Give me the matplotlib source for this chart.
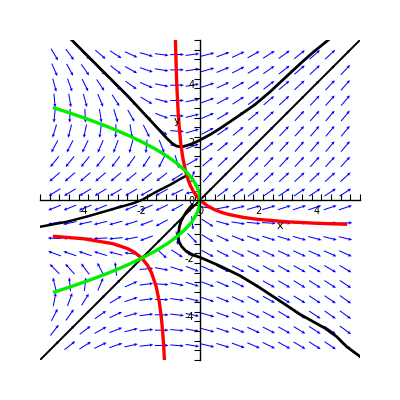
import numpy as np
import matplotlib.pyplot as plt
from matplotlib.ticker import FixedLocator

plt.rcParams['axes.unicode_minus'] = False

# direction field grid (20 x 20 arrows over -5..5)
grid_x = np.linspace(-5, 5, 20)
grid_y = np.linspace(-5, 5, 20)

# system: x' = 2x + y^2 , y' = x + y + xy
def field(x, y):
    return 2 * x + y ** 2, x + y + x * y

# trajectories (black)
traj_upper_x = [-4.41, -3.44, -2.46, -1.72, -1.35, -1.14, -0.95, -0.80, -0.62, -0.46, -0.22, 0.0, 0.35, 0.69, 1.37, 1.89, 2.41, 2.86, 3.44, 3.89, 4.41]
traj_upper_y = [5.50, 4.53, 3.55, 2.75, 2.35, 2.12, 1.94, 1.85, 1.83, 1.87, 1.95, 2.06, 2.25, 2.46, 2.92, 3.28, 3.72, 4.14, 4.68, 5.08, 5.50]

traj_lower_x = [-0.27, -0.45, -0.57, -0.66, -0.71, -0.75, -0.72, -0.63, -0.48, -0.29, 0.0, 0.69, 1.37, 2.0, 2.64, 3.44, 4.30, 4.70, 5.04, 5.5]
traj_lower_y = [-0.17, -0.38, -0.57, -0.75, -0.92, -1.26, -1.44, -1.60, -1.76, -1.88, -1.97, -2.27, -2.60, -2.98, -3.40, -3.93, -4.41, -4.70, -5.04, -5.38]

traj_left_x = [-5.5, -4.58, -3.89, -3.09, -2.29, -2.0, -1.49, -1.03, -0.63, -0.46]
traj_left_y = [-0.92, -0.75, -0.57, -0.34, -0.11, 0.0, 0.29, 0.52, 0.75, 0.84]

diag_x = [-5.5, 5.5]
diag_y = [-5.5, 5.5]

# nullcline y' = 0 (red), two branches
red_a_x = [-0.846, -0.8, -0.75, -0.714, -0.667, -0.6, -0.5, -0.4, -0.333, -0.2, 0.0, 0.25, 0.5, 0.75, 1.0, 1.5, 2.0, 3.0, 4.0, 5.0]
red_a_y = [5.5, 4.0, 3.0, 2.5, 2.0, 1.5, 1.0, 0.667, 0.5, 0.25, 0.0, -0.2, -0.333, -0.429, -0.5, -0.6, -0.667, -0.75, -0.8, -0.833]
red_b_x = [-5.0, -4.0, -3.0, -2.5, -2.25, -2.0, -1.8, -1.667, -1.5, -1.4, -1.333, -1.286, -1.25, -1.222]
red_b_y = [-1.25, -1.333, -1.5, -1.667, -1.8, -2.0, -2.25, -2.5, -3.0, -3.5, -4.0, -4.5, -5.0, -5.5]

# nullcline x' = 0 (green)
green_y = [3.16, 3.0, 2.75, 2.5, 2.25, 2.0, 1.75, 1.5, 1.25, 1.0, 0.75, 0.5, 0.25, 0.0,
           -0.25, -0.5, -0.75, -1.0, -1.25, -1.5, -1.75, -2.0, -2.25, -2.5, -2.75, -3.0, -3.16]
green_x = [-5.0, -4.5, -3.78, -3.125, -2.53, -2.0, -1.53, -1.125, -0.78, -0.5, -0.28, -0.125, -0.03, 0.0,
           -0.03, -0.125, -0.28, -0.5, -0.78, -1.125, -1.53, -2.0, -2.53, -3.125, -3.78, -4.5, -5.0]

tick_labels = [-4, -2, 0, 2, 4]

fig = plt.figure(figsize=(4, 4), dpi=100)
ax = fig.add_axes([0.1, 0.1, 0.8, 0.8])

X, Y = np.meshgrid(grid_x, grid_y)
U, V = field(X, Y)
n = np.hypot(U, V)
n[n == 0] = 1
L = 0.47
ax.quiver(X, Y, U / n * L, V / n * L, color='#0000ff', angles='xy', scale_units='xy',
          scale=1, pivot='middle', width=0.0032, headwidth=3.2, headlength=3.5,
          headaxislength=3.0, zorder=1)

ax.plot(diag_x, diag_y, color='black', lw=1.4, zorder=2)
ax.plot(traj_upper_x, traj_upper_y, color='black', lw=2.0, zorder=2)
ax.plot(traj_lower_x, traj_lower_y, color='black', lw=2.0, zorder=2)
ax.plot(traj_left_x, traj_left_y, color='black', lw=1.8, zorder=2)

ax.plot(red_a_x, red_a_y, color='#ff0000', lw=2.4, zorder=3)
ax.plot(red_b_x, red_b_y, color='#ff0000', lw=2.4, zorder=3)
ax.plot(green_x, green_y, color='#00ee00', lw=2.4, zorder=4)

ax.set_xlim(-5.5, 5.5)
ax.set_ylim(-5.5, 5.5)

for s in ['top', 'right']:
    ax.spines[s].set_visible(False)
ax.spines['left'].set_position(('data', 0))
ax.spines['bottom'].set_position(('data', 0))
ax.spines['left'].set_linewidth(1.0)
ax.spines['bottom'].set_linewidth(1.0)
ax.spines['left'].set_zorder(5)
ax.spines['bottom'].set_zorder(5)

minor = np.arange(-5.5, 5.51, 1 / 3)
ax.xaxis.set_minor_locator(FixedLocator(minor))
ax.yaxis.set_minor_locator(FixedLocator(minor))
ax.set_xticks(tick_labels)
ax.set_yticks(tick_labels)
ax.tick_params(axis='x', which='minor', direction='in', length=4, width=0.8)
ax.tick_params(axis='y', which='minor', direction='out', length=4, width=0.8)
ax.tick_params(axis='both', which='major', length=0, labelsize=7, pad=4)

ax.text(2.75, -0.9, 'x', fontsize=8, ha='center', va='center')
ax.text(-0.8, 2.7, 'y', fontsize=8, ha='center', va='center')

fig.savefig('out.png', dpi=100)
